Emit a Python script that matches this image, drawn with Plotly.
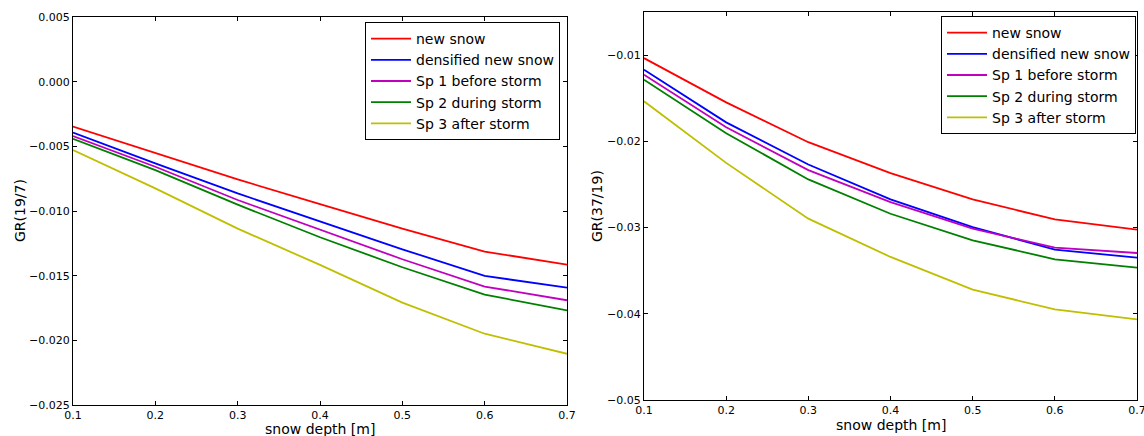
import plotly.graph_objects as go

depth = [0.1, 0.2, 0.3, 0.4, 0.5, 0.6, 0.7]
series_names = ["new snow", "densified new snow", "Sp 1 before storm",
                "Sp 2 during storm", "Sp 3 after storm"]
colors = ["#FF0000", "#0000FF", "#BF00BF", "#008000", "#BFBF00"]

gr19_7_new = [-0.00347, -0.00550, -0.00756, -0.00946, -0.01136, -0.01314, -0.01414]
gr19_7_dens = [-0.00393, -0.00632, -0.00864, -0.01082, -0.01296, -0.01502, -0.01592]
gr19_7_sp1 = [-0.00421, -0.00658, -0.00915, -0.01147, -0.01373, -0.01584, -0.01690]
gr19_7_sp2 = [-0.00442, -0.00684, -0.00951, -0.01203, -0.01435, -0.01646, -0.01769]
gr19_7_sp3 = [-0.00529, -0.00825, -0.01136, -0.01417, -0.01708, -0.01949, -0.02104]

gr37_19_new = [-0.01035, -0.01548, -0.02010, -0.02369, -0.02674, -0.02905, -0.03025]
gr37_19_dens = [-0.01170, -0.01780, -0.02269, -0.02674, -0.02994, -0.03256, -0.03349]
gr37_19_sp1 = [-0.01228, -0.01837, -0.02334, -0.02705, -0.03013, -0.03233, -0.03295]
gr37_19_sp2 = [-0.01285, -0.01906, -0.02442, -0.02840, -0.03148, -0.03368, -0.03464]
gr37_19_sp3 = [-0.01536, -0.02250, -0.02897, -0.03341, -0.03719, -0.03950, -0.04066]

left_series = [gr19_7_new, gr19_7_dens, gr19_7_sp1, gr19_7_sp2, gr19_7_sp3]
right_series = [gr37_19_new, gr37_19_dens, gr37_19_sp1, gr37_19_sp2, gr37_19_sp3]

x_title = "snow depth [m]"
y_titles = ["GR(19/7)", "GR(37/19)"]

W, H = 1144, 436
FONT = "DejaVu Sans"

fig = go.Figure()
for name, col, ys in zip(series_names, colors, left_series):
    fig.add_trace(go.Scatter(x=depth, y=ys, mode="lines", name=name,
                             line=dict(color=col, width=1.8),
                             xaxis="x", yaxis="y", legend="legend"))
for name, col, ys in zip(series_names, colors, right_series):
    fig.add_trace(go.Scatter(x=depth, y=ys, mode="lines", name=name,
                             line=dict(color=col, width=1.8),
                             xaxis="x2", yaxis="y2", legend="legend2"))

axis_common = dict(showline=True, linecolor="black", linewidth=1, mirror="ticks",
                   ticks="inside", ticklen=4, tickcolor="black", showgrid=False,
                   zeroline=False, tickfont=dict(family=FONT, size=11, color="black"),
                   automargin=False, ticklabeloverflow="allow")

legend_common = dict(xanchor="right", yanchor="top",
                     bordercolor="black", borderwidth=1, bgcolor="white",
                     font=dict(family=FONT, size=14, color="black"),
                     tracegroupgap=0, itemwidth=40)

fig.update_layout(
    width=W, height=H, margin=dict(l=0, r=0, t=0, b=0),
    paper_bgcolor="white", plot_bgcolor="white",
    font=dict(family=FONT, color="black"),
    xaxis=dict(domain=[73 / W, 567 / W], range=[0.1, 0.7], dtick=0.1, tick0=0.1,
               tickformat=".1f", anchor="y", **axis_common),
    yaxis=dict(domain=[1 - 405 / H, 1 - 17 / H], range=[-0.025, 0.005], dtick=0.005,
               tickformat=".3f", anchor="x", **axis_common),
    xaxis2=dict(domain=[644 / W, 1137 / W], range=[0.1, 0.7], dtick=0.1, tick0=0.1,
                tickformat=".1f", anchor="y2", **axis_common),
    yaxis2=dict(domain=[1 - 400 / H, 1 - 12 / H], range=[-0.05, -0.005],
                tickvals=[-0.01, -0.02, -0.03, -0.04, -0.05],
                tickformat=".2f", anchor="x2", **axis_common),
    legend=dict(x=560 / W, y=1 - 22 / H, **legend_common),
    legend2=dict(x=1136 / W, y=1 - 16 / H, **legend_common),
    showlegend=True,
)

title_font = dict(family=FONT, size=14, color="black")
annos = [
    dict(text=x_title, x=320 / W, y=1 - 428.5 / H),
    dict(text=x_title, x=891 / W, y=1 - 425 / H),
    dict(text=y_titles[0], x=20 / W, y=1 - 211 / H, textangle=-90),
    dict(text=y_titles[1], x=597 / W, y=1 - 206 / H, textangle=-90),
]
for a in annos:
    fig.add_annotation(xref="paper", yref="paper", showarrow=False,
                       xanchor="center", yanchor="middle", font=title_font, **a)

fig.write_html("out.html")
